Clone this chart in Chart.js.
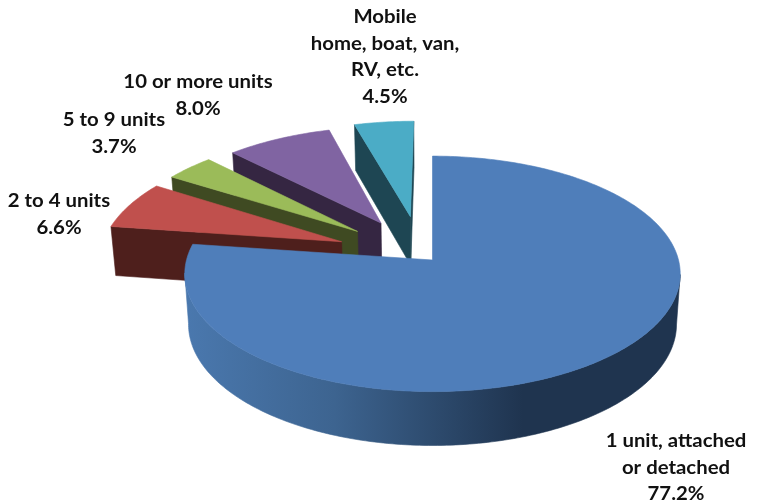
<!DOCTYPE html>
<html><head><meta charset="utf-8">
<style>html,body{margin:0;padding:0;background:#fff}canvas{display:block}</style>
<script src="https://cdn.jsdelivr.net/npm/chart.js@4"></script>
</head><body><canvas id="c" width="757" height="500"></canvas>
<script>
const categories = ["1 unit, attached or detached","2 to 4 units","5 to 9 units","10 or more units","Mobile home, boat, van, RV, etc."];
const shares = [77.2,6.6,3.7,8.0,4.5];
const topColors = ["#4F7EBA","#C0504D","#9BBB59","#8064A2","#4BACC6"];
const wallColors = ["#1F344F","#4E1F1C","#3F4A22","#352642","#1E4653"];
const explodePx = [0,97,97,97,97];
const sliceNudge = [[0,0],[3,-3],[1,-1],[-1,1],[-7,0]];
const apexNudge = [0,-4,-2,-3,-2];
const labelLines = [["1 unit, attached","or detached","77.2%"],["2 to 4 units","6.6%"],["5 to 9 units","3.7%"],["10 or more units","8.0%"],["Mobile","home, boat, van,","RV, etc.","4.5%"]];
const labelPlaces = [[676,441],[59,201],[114,120],[198,82],[385,17]];

const PERSP = 0.1176, SQUASH = 0.472, DEPTH = 50, RADIUS = 246, BOTTOM_X = 0.985, LINE_H = 26.7, TEXT_STRETCH = 1.1;

function project(arc, dx, dy, nudge) {
  const w = 1 - PERSP * dy / RADIUS;
  const sx = arc.x + dx / w + nudge[0], sy = arc.y + SQUASH * dy / w + nudge[1];
  return {x:sx, y:sy, bx:arc.x + (sx-arc.x)*BOTTOM_X, by:sy + DEPTH/Math.pow(w,0.6)};
}
function poly(ctx, pts, fill) {
  ctx.beginPath();
  pts.forEach((p,i)=> i ? ctx.lineTo(p[0],p[1]) : ctx.moveTo(p[0],p[1]));
  ctx.closePath();
  ctx.fillStyle = fill; ctx.strokeStyle = fill; ctx.lineWidth = 0.6;
  ctx.fill(); ctx.stroke();
}
function drawSlice(ctx, arc, i) {
  const off = arc.options.offset || 0, mid = (arc.startAngle+arc.endAngle)/2;
  const ox = Math.cos(mid)*off, oy = Math.sin(mid)*off, R = arc.outerRadius, nudge = sliceNudge[i];
  const n = Math.max(8, Math.ceil((arc.endAngle-arc.startAngle)*60));
  const rim = [];
  for (let k=0;k<=n;k++){
    const a = arc.startAngle + (arc.endAngle-arc.startAngle)*k/n;
    rim.push(project(arc, ox+Math.cos(a)*R, oy+Math.sin(a)*R, nudge));
  }
  const apex = project(arc, ox, oy, [nudge[0]+apexNudge[i], nudge[1]]);
  let wallFill = wallColors[i];
  if (i===0){
    const g = ctx.createLinearGradient(185,0,682,0);
    g.addColorStop(0,"#4A78AE"); g.addColorStop(0.3,"#3D6490");
    g.addColorStop(0.68,"#1F344F"); g.addColorStop(1,"#1F344F");
    wallFill = g;
  }
  const quad = p => [[apex.x,apex.y],[p.x,p.y],[p.bx,p.by],[apex.bx,apex.by]];
  const first = rim[0], last = rim[rim.length-1];
  if ((first.x-apex.x) * (first.by-first.y) < -1) poly(ctx, quad(first), wallColors[i]);
  if ((last.x-apex.x) * (last.by-last.y) > 1) poly(ctx, quad(last), wallColors[i]);
  const run = [];
  for (let k=0;k<n;k++) if (rim[k+1].x < rim[k].x) { if(!run.length) run.push(rim[k]); run.push(rim[k+1]); }
  if (run.length) poly(ctx, run.map(p=>[p.x,p.y]).concat(run.slice().reverse().map(p=>[p.bx,p.by])), wallFill);
  poly(ctx, [[apex.x,apex.y]].concat(rim.map(p=>[p.x,p.y])), arc.options.backgroundColor);
}
const pie3d = {
  id:"pie3d",
  beforeDatasetDraw(chart, args){
    const ctx = chart.ctx, arcs = args.meta.data;
    ctx.save(); ctx.lineJoin = "round";
    for (let i=arcs.length-1;i>=0;i--) drawSlice(ctx, arcs[i], i);
    ctx.restore();
    return false;
  },
  afterDatasetsDraw(chart){
    const ctx = chart.ctx;
    ctx.font = "bold 18.5px Lato"; ctx.fillStyle = "#111";
    ctx.textAlign = "center"; ctx.textBaseline = "middle";
    labelLines.forEach((lines,i)=>lines.forEach((t,j)=>{
      ctx.save();
      ctx.translate(labelPlaces[i][0],labelPlaces[i][1]+j*LINE_H);
      ctx.scale(TEXT_STRETCH,1);
      ctx.fillText(t,0,0);
      ctx.restore();
    }));
  }
};
new Chart(document.getElementById("c"),{
  type:"pie",
  data:{labels:categories,datasets:[{data:shares,backgroundColor:topColors,offset:explodePx,borderWidth:0}]},
  options:{
    responsive:false,animation:false,radius:RADIUS,
    layout:{padding:{left:108,top:20}},
    events:[],
    plugins:{legend:{display:false},tooltip:{enabled:false},title:{display:false}}
  },
  plugins:[pie3d]
});
</script></body></html>
